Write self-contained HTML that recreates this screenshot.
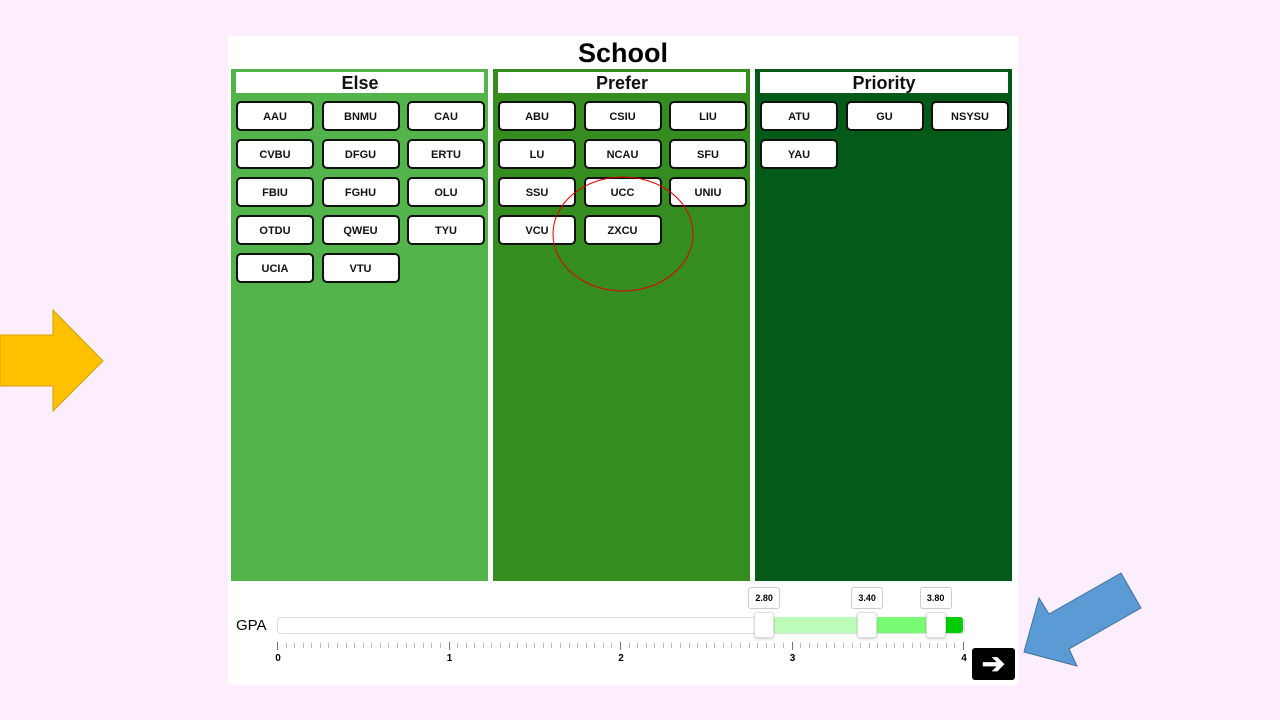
<!DOCTYPE html>
<html><head><meta charset="utf-8">
<style>
body{margin:0;width:1280px;height:720px;background:#fdeefd;position:relative;overflow:hidden;font-family:"Liberation Sans",sans-serif}
.abs{position:absolute}
.col{position:absolute;top:69px;width:257px;height:512px}
.hdr{position:absolute;left:5px;top:3px;width:248px;height:21px;background:#fff;text-align:center;font-size:18px;font-weight:bold;line-height:23px;color:#111}
.btn{position:absolute;width:74px;height:26px;background:#fff;border:2px solid #111;border-radius:5px;font-size:11px;font-weight:bold;text-align:center;line-height:29px;color:#111}
.tick{position:absolute;width:1px;background:#999}
.lbl{position:absolute;font-size:10px;font-weight:bold;transform:translateX(-50%)}
.handle{position:absolute;top:612px;width:18px;height:24px;background:#fff;border:1px solid #ddd;border-radius:3px;transform:translateX(-50%);box-shadow:0 1px 2px rgba(0,0,0,.2)}
.val{position:absolute;top:587px;width:30px;height:20px;background:#fff;border:1px solid #ccc;border-radius:3px;font-size:9px;font-weight:bold;text-align:center;line-height:20px;transform:translateX(-50%)}
</style></head><body>
<svg class="abs" style="left:0;top:0" width="1280" height="720">
<polygon points="0,335 53,335 53,310 103,361 53,411 53,386 0,386" fill="#ffc000" stroke="#d6a000"/>
<polygon points="1024,652 1039,598 1049,614 1121,573 1141,608 1069,649 1077,666" fill="#5b9bd5" stroke="#41719c"/>
</svg>
<div class="abs" style="left:228px;top:36px;width:790px;height:649px;background:#fff"></div>
<div class="abs" style="left:228px;top:36px;width:790px;text-align:center;font-size:27px;font-weight:bold;line-height:34px">School</div>
<div id="cols"></div>
<svg class="abs" style="left:0;top:0" width="1280" height="720"><ellipse cx="623" cy="234" rx="70" ry="57" fill="none" stroke="#e00000" stroke-width="1"/></svg>
<div class="abs" style="left:236px;top:617px;font-size:15px">GPA</div>
<div id="slider"></div>
<div class="abs" style="left:972px;top:648px;width:43px;height:32px;background:#000;border-radius:3px;color:#fff;font-size:28px;line-height:32px;text-align:center;font-weight:bold">➔</div>
<script>
const groups=["Else","Prefer","Priority"];
const colors=["#52b44a","#358d20","#045a17"];
const schools=[["AAU","BNMU","CAU","CVBU","DFGU","ERTU","FBIU","FGHU","OLU","OTDU","QWEU","TYU","UCIA","VTU"],["ABU","CSIU","LIU","LU","NCAU","SFU","SSU","UCC","UNIU","VCU","ZXCU"],["ATU","GU","NSYSU","YAU"]];
const gpaTicks=[0,1,2,3,4];
const handles=[2.8,3.4,3.8];
const cols=document.getElementById('cols');
groups.forEach((g,i)=>{
 const c=document.createElement('div');c.className='col';c.style.left=(231+i*262)+'px';c.style.background=colors[i];
 
 
 const h=document.createElement('div');h.className='hdr';h.textContent=g;
 
 
 c.appendChild(h);
 schools[i].forEach((s,j)=>{
  const b=document.createElement('div');b.className='btn';b.textContent=s;
  b.style.left=(5+(j%3)*85.5)+'px';b.style.top=(32+Math.floor(j/3)*38)+'px';
  
  
  c.appendChild(b);
 });
 cols.appendChild(c);
});
const sl=document.getElementById('slider');
const x=v=>277+v*171.5;
let html='<div class="abs" style="left:277px;top:617px;width:686px;height:15px;background:#fff;border:1px solid #ddd;border-radius:4px"></div>';
const fills=["#bdfbb8","#7bfb73","#00cc00"];
const ends=[handles[0],handles[1],handles[2],4];
for(let i=0;i<3;i++){const a=x(ends[i])+7,b=(i==2?963:x(ends[i+1])+7);html+=`<div class="abs" style="left:${a}px;top:617px;width:${b-a}px;height:16px;background:${fills[i]};border-radius:${i==2?'0 3px 3px 0':'0'}"></div>`;}
for(let k=0;k<=80;k++){const v=k/20;const major=k%20==0;html+=`<div class="tick" style="left:${x(v)}px;top:${major?642:643}px;height:${major?8:5}px;background:${major?'#777':'#bbb'}"></div>`;}
gpaTicks.forEach(t=>{html+=`<div class="lbl" style="left:${x(t)+1}px;top:653px">${t}</div>`;});
handles.forEach(h=>{const cx=x(h)+7;html+=`<div class="handle" style="left:${cx}px"></div><div class="val" style="left:${cx}px">${h.toFixed(2)}</div>`;});
sl.innerHTML=html;
</script>
</body></html>
